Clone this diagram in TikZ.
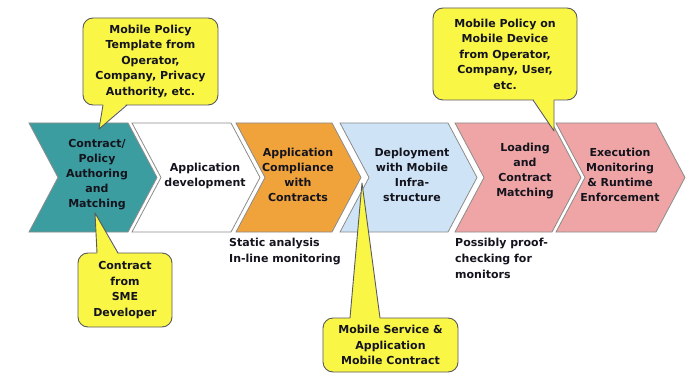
\documentclass[tikz,border=0pt]{standalone}
\usepackage{fontspec}
\setmainfont{DejaVu Sans}
\definecolor{cteal}{RGB}{60,157,160}
\definecolor{corange}{RGB}{240,163,58}
\definecolor{cblue}{RGB}{206,227,245}
\definecolor{cpink}{RGB}{239,165,165}
\definecolor{cwhite}{RGB}{255,255,255}
\definecolor{cyel}{RGB}{250,246,70}
\definecolor{cedge}{RGB}{140,140,140}
\definecolor{bedge}{RGB}{90,90,90}
\definecolor{ctxt}{RGB}{20,20,30}
\newcommand\mychev[3]{%
  \path[chev, fill=#3] (#1,123) -- (#2,123) -- (#2+29,177.5) -- (#2,232) -- (#1,232) -- (#1+29,177.5) -- cycle;}
\begin{document}
\begin{tikzpicture}[x=1pt,y=-1pt,
  chev/.style={draw=cedge, line width=0.8pt, line join=miter},
  lbl/.style={align=center, font=\fontsize{11}{15}\selectfont\bfseries, text=ctxt, inner sep=0pt},
  note/.style={align=left, font=\fontsize{11}{16}\selectfont\bfseries, text=ctxt, inner sep=0pt},
  bubble/.style={draw=bedge, fill=cyel, rounded corners=10pt, line width=0.9pt, align=center,
    font=\fontsize{11}{15.5}\selectfont\bfseries, text=ctxt, inner sep=0pt},
  ptrfill/.style={fill=cyel},
  ptr/.style={draw=bedge, line width=0.9pt, line join=round}]
\useasboundingbox[fill=white] (0,0) rectangle (692,379);
% chevrons
\mychev{29}{128}{cteal}
\mychev{132}{231}{cwhite}
\mychev{236}{332}{corange}
\mychev{340}{448}{cblue}
\mychev{455}{552}{cpink}
\mychev{556}{656}{cpink}
\node[lbl] (t1) at (97,175) {Contract/\\Policy\\Authoring\\and\\Matching};
\node[lbl] (t2) at (205,175.5) {Application\\development};
\node[lbl] (t3) at (298,175) {Application\\Compliance\\with\\Contracts};
\node[lbl] (t4) at (412,175) {Deployment\\with Mobile\\Infra-\\structure};
\node[lbl] (t5) at (525,171.5) {Loading\\and\\Contract\\Matching};
\node[lbl] (t6) at (620,175) {Execution\\Monitoring\\\& Runtime\\Enforcement};
% notes
\node[note, anchor=north west] (n1) at (229,237.5) {Static analysis\\In-line monitoring};
\node[note, anchor=north west] (n2) at (455,237.5) {Possibly proof-\\checking for\\monitors};
% callout 1
\node[bubble, minimum width=135pt, minimum height=87pt] (c1) at (150.5,61.5) {Mobile Policy\\Template from\\Operator,\\Company, Privacy\\Authority, etc.};
\coordinate (p1) at (99,129);
\fill[ptrfill] (103,103.5) -- (p1) -- (127,103.5) -- cycle;
\draw[ptr] (103,105) -- (p1) -- (127,105);
% callout 2
\node[bubble, minimum width=144pt, minimum height=92pt] (c2) at (505,54) {Mobile Policy on\\Mobile Device\\from Operator,\\Company, User,\\etc.};
\coordinate (p2) at (554,131);
\fill[ptrfill] (533,98.5) -- (p2) -- (554,98.5) -- cycle;
\draw[ptr] (533,100) -- (p2) -- (554,100);
% callout 3
\node[bubble, minimum width=94pt, minimum height=74pt] (c3) at (125,290) {Contract\\from\\SME\\Developer};
\coordinate (p3) at (95,213);
\fill[ptrfill] (97,254.5) -- (p3) -- (118,254.5) -- cycle;
\draw[ptr] (97,253) -- (p3) -- (118,253);
% callout 4
\node[bubble, minimum width=135pt, minimum height=54pt] (c4) at (390.5,345) {Mobile Service \&\\Application\\Mobile Contract};
\coordinate (p4) at (362,183);
\fill[ptrfill] (350,319.5) -- (p4) -- (380,319.5) -- cycle;
\draw[ptr] (350,318) -- (p4) -- (380,318);
\end{tikzpicture}
\end{document}
